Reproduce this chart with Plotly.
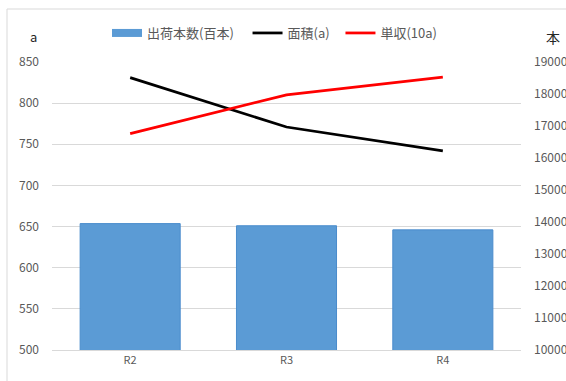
import plotly.graph_objects as go

categories = ["R2", "R3", "R4"]
shipments = [653.6, 651, 646]          # 出荷本数(百本), left axis
area = [831, 771, 742]                 # 面積(a), left axis
yield_10a = [16760, 17975, 18530]      # 単収(10a), right axis

FONT = "Noto Sans CJK JP"
GRAY = "#595959"
PAD3 = "\u00a0\u00a0\u00a0"
PAD2 = "\u00a0\u00a0"

fig = go.Figure()
fig.add_trace(go.Bar(
    x=categories, y=shipments, name="出荷本数(百本)",
    marker=dict(color="#5b9bd5", line=dict(color="#4a8ccc", width=1)),
    width=0.64, yaxis="y", showlegend=False,
))
# legend entry for the bars (wide box like the original legend)
fig.add_trace(go.Scatter(
    x=categories, y=[None] * len(categories), name="出荷本数(百本)" + PAD3, mode="lines",
    line=dict(color="#5b9bd5", width=8), yaxis="y", hoverinfo="skip",
))
fig.add_trace(go.Scatter(
    x=categories, y=area, name="面積(a)" + PAD2, mode="lines",
    line=dict(color="#000000", width=2.75), yaxis="y",
))
fig.add_trace(go.Scatter(
    x=categories, y=yield_10a, name="単収(10a)", mode="lines",
    line=dict(color="#ff0000", width=2.75), yaxis="y2",
))

W, H = 566, 381
L, R, T, B = 52, 45, 62, 31
pw = W - L - R
ph = H - T - B

fig.update_layout(
    width=W, height=H,
    margin=dict(l=L, r=R, t=T, b=B, pad=0, autoexpand=False),
    paper_bgcolor="white", plot_bgcolor="white",
    font=dict(family=FONT, size=12, color=GRAY),
    showlegend=True,
    legend=dict(
        orientation="h", x=(107 - L) / pw, y=(350 - 33) / ph,
        xanchor="left", yanchor="middle",
        font=dict(family=FONT, size=13, color=GRAY),
        bgcolor="rgba(0,0,0,0)", itemwidth=30, tracegroupgap=0,
        traceorder="normal",
    ),
    bargap=0.36,
    xaxis=dict(
        type="category", showgrid=False, showline=True, linecolor="#d9d9d9",
        linewidth=1, ticks="", tickfont=dict(size=11, color=GRAY),
        range=[-0.5, 2.5], automargin=False,
    ),
    yaxis=dict(
        range=[500, 850], dtick=50, showgrid=True, gridcolor="#d9d9d9",
        gridwidth=1, zeroline=False, ticks="", tickfont=dict(size=12, color=GRAY),
        ticklabelstandoff=12, automargin=False,
    ),
    yaxis2=dict(
        range=[10000, 19000], dtick=1000, overlaying="y", side="right",
        showgrid=False, zeroline=False, ticks="", tickfont=dict(size=12, color=GRAY),
        ticklabelstandoff=12, tickformat="d", automargin=False,
    ),
    annotations=[
        dict(text="a", x=(33 - L) / pw, y=(350 - 37) / ph, xref="paper", yref="paper",
             showarrow=False, font=dict(family=FONT, size=13, color="#262626"),
             xanchor="center", yanchor="middle"),
        dict(text="本", x=(553 - L) / pw, y=(350 - 37) / ph, xref="paper", yref="paper",
             showarrow=False, font=dict(family=FONT, size=14, color="#262626"),
             xanchor="center", yanchor="middle"),
    ],
    shapes=[
        dict(type="rect", xref="paper", yref="paper",
             x0=(7 - L) / pw, x1=(600 - L) / pw, y0=(350 - 400) / ph, y1=(350 - 9) / ph,
             line=dict(color="#d9d9d9", width=1), fillcolor="rgba(0,0,0,0)", layer="below"),
    ],
)

fig.write_html("out.html")
